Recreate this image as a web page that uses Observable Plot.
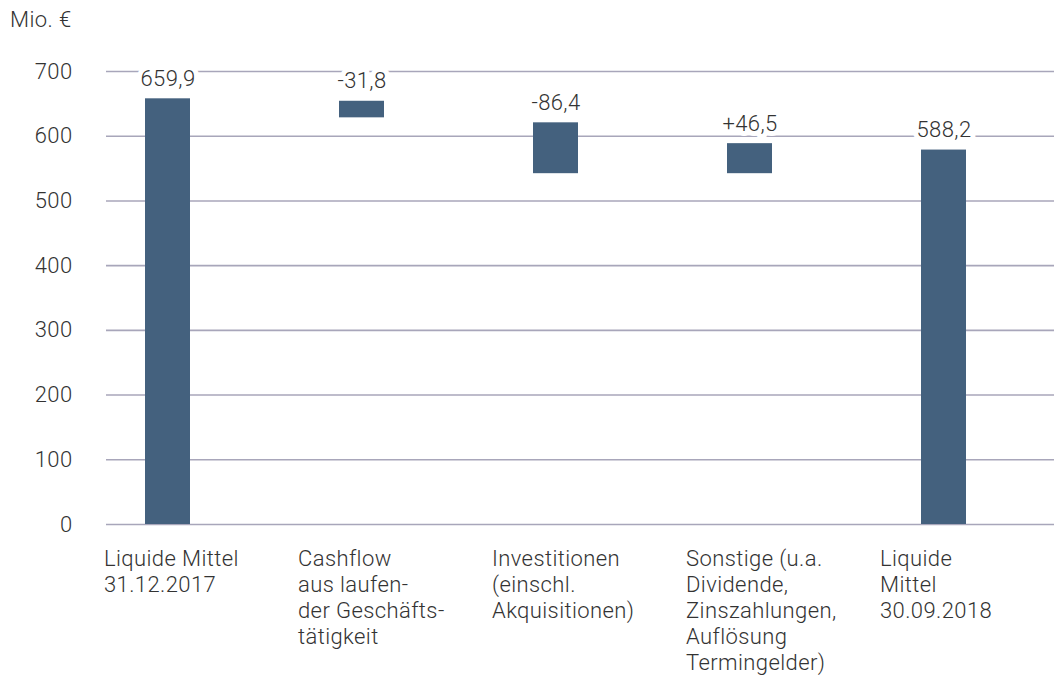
<!DOCTYPE html>
<html>
<head>
<meta charset="utf-8">
<script src="https://cdn.jsdelivr.net/npm/d3@7"></script>
<script src="https://cdn.jsdelivr.net/npm/@observablehq/plot@0.6"></script>
<style>
  html, body { margin: 0; padding: 0; background: #fff; }
  #unit { height: 26px; padding: 9px 0 0 10px; font: 300 22px/1 Roboto, sans-serif; color: #333; letter-spacing: 0.4px; }
  svg { display: block; }
</style>
</head>
<body>
<div id="unit">Mio. €</div>
<div id="chart"></div>
<script>
const categories = [
  "Liquide Mittel\n31.12.2017",
  "Cashflow\naus laufen-\nder Geschäfts-\ntätigkeit",
  "Investitionen\n(einschl.\nAkquisitionen)",
  "Sonstige (u.a.\nDividende,\nZinszahlungen,\nAuflösung\nTermingelder)",
  "Liquide\nMittel\n30.09.2018"
];
const barLow = [0, 628.4, 542.1, 542.1, 0];
const barHigh = [657.8, 654.0, 620.7, 588.5, 578.6];
const valueLabels = ["659,9", "-31,8", "-86,4", "+46,5", "588,2"];
const yTicks = [0, 100, 200, 300, 400, 500, 600, 700];

const data = categories.map((c, i) => ({cat: c, low: barLow[i], high: barHigh[i], label: valueLabels[i]}));

const chart = Plot.plot({
  width: 1054,
  height: 641,
  marginTop: 36,
  marginLeft: 106,
  marginRight: 0,
  marginBottom: 152,
  style: {fontFamily: "Roboto, sans-serif", fontSize: "22px", fontWeight: 300, color: "#333", background: "#fff", letterSpacing: "0.4px"},
  x: {domain: categories, range: [106, 1004], paddingInner: 0.769, paddingOuter: 0.193},
  y: {domain: [0, 700]},
  marks: [
    Plot.gridY(yTicks, {stroke: "#a8a6ba", strokeOpacity: 1, strokeWidth: 1.6}),
    Plot.barY(data, {x: "cat", y1: "low", y2: "high", fill: "#44617e"}),
    Plot.text(data, {x: "cat", y: "high", text: "label", dy: -13, lineAnchor: "bottom",
      fill: "#333", stroke: "white", strokeWidth: 10, fontSize: 22, fontWeight: 300}),
    Plot.axisY(yTicks, {tickSize: 0, tickPadding: 34, label: null, fontSize: 22, fontWeight: 300, fill: "#333"}),
    Plot.axisX({tickSize: 0, tickPadding: 23, textAnchor: "start", dx: -64, lineHeight: 1.18,
      label: null, fontSize: 22, fontWeight: 300, fill: "#333"})
  ]
});
document.getElementById("chart").appendChild(chart);
</script>
</body>
</html>
